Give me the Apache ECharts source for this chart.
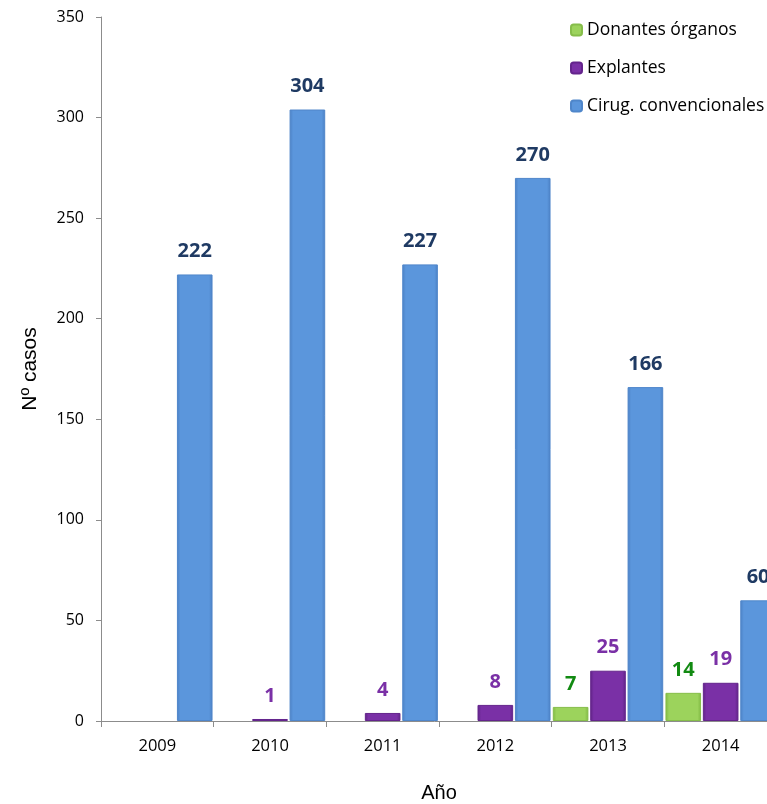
<!DOCTYPE html>
<html><head><meta charset="utf-8">
<script src="https://cdn.jsdelivr.net/npm/echarts@6/dist/echarts.min.js"></script>
<style>html,body{margin:0;padding:0;background:#fff;overflow:hidden}#c{width:767px;height:804px}</style>
</head><body><div id="c"></div>
<script>
const years = ['2009','2010','2011','2012','2013','2014'];
const donantes = [null, null, null, null, 7, 14];
const explantes = [null, 1, 4, 8, 25, 19];
const cirugias = [222, 304, 227, 270, 166, 60];
const yTicks = {min: 0, max: 350, interval: 50};

function grad(edge, mid) {
  return new echarts.graphic.LinearGradient(0, 0, 1, 0, [
    {offset: 0, color: edge}, {offset: 0.1, color: mid},
    {offset: 0.9, color: mid}, {offset: 1, color: edge}
  ]);
}
const F = '"Open Sans", sans-serif';
function lbl(color) {
  return {show: true, position: 'top', distance: 13, color: color,
    fontFamily: 'Open Sans', fontWeight: 'bold', fontSize: 20};
}
const chart = echarts.init(document.getElementById('c'), null, {width: 767, height: 804});
chart.setOption({
  animation: false,
  backgroundColor: '#fff',
  grid: {left: 101, top: 17, width: 676, height: 704, containLabel: false, outerBoundsMode: 'none'},
  legend: {
    orient: 'vertical', left: 565, top: 16, itemWidth: 11, itemHeight: 11, itemGap: 20,
    textStyle: {fontFamily: F, fontSize: 17.5, color: '#000', padding: [0, 0, 0, 0]},
    data: ['Donantes órganos', 'Explantes', 'Cirug. convencionales']
  },
  xAxis: {
    type: 'category', data: years,
    name: 'Año', nameLocation: 'middle', nameGap: 62,
    nameTextStyle: {fontFamily: 'Liberation Sans', fontSize: 20, color: '#000'},
    axisLine: {lineStyle: {color: '#8c8c8c', width: 1}},
    axisTick: {show: true, length: 6, lineStyle: {color: '#8c8c8c'}},
    axisLabel: {fontFamily: F, fontSize: 16.5, color: '#000', margin: 17}
  },
  yAxis: {
    type: 'value', min: yTicks.min, max: yTicks.max, interval: yTicks.interval,
    name: 'Nº casos', nameLocation: 'middle', nameGap: 60, nameRotate: 90,
    nameTextStyle: {fontFamily: 'Liberation Sans', fontSize: 21, color: '#000'},
    axisLine: {show: true, lineStyle: {color: '#8c8c8c', width: 1}},
    axisTick: {show: true, length: 5, lineStyle: {color: '#8c8c8c'}},
    splitLine: {show: false},
    axisLabel: {fontFamily: F, fontSize: 16, color: '#000', margin: 17}
  },
  series: [
    {name: 'Donantes órganos', type: 'bar', data: donantes, barGap: '5%', barCategoryGap: '2%',
     itemStyle: {color: grad('#7fb842', '#9cd35c'), borderColor: '#86bd4a', borderWidth: 1},
     label: lbl('#128a12')},
    {name: 'Explantes', type: 'bar', data: explantes,
     itemStyle: {color: grad('#5e2385', '#7a30a6'), borderColor: '#64248c', borderWidth: 1},
     label: lbl('#7a30a6')},
    {name: 'Cirug. convencionales', type: 'bar', data: cirugias,
     itemStyle: {color: grad('#4b80c4', '#5b96dc'), borderColor: '#4f86ca', borderWidth: 1},
     label: lbl('#1f3a63')}
  ]
});
</script></body></html>
